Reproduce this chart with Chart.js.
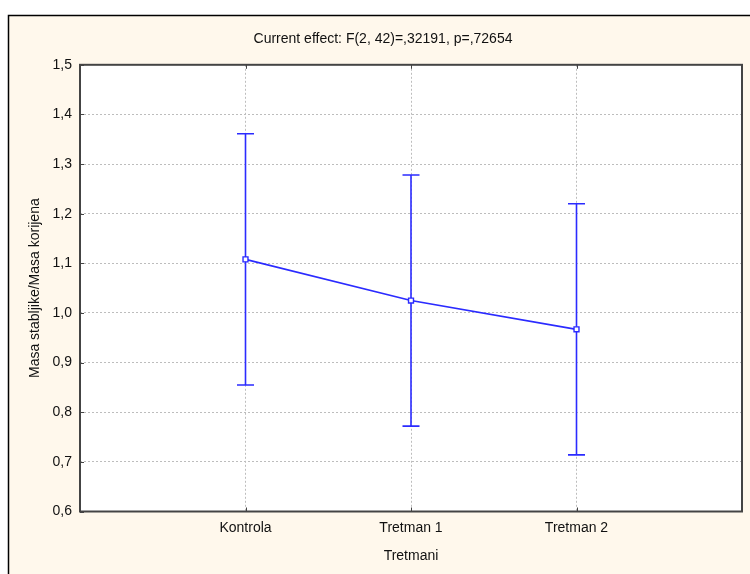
<!DOCTYPE html>
<html>
<head>
<meta charset="utf-8">
<script src="https://cdn.jsdelivr.net/npm/chart.js@4"></script>
<style>
  html, body { margin: 0; padding: 0; background: #fff; }
  #wrap { width: 750px; height: 574px; }
</style>
</head>
<body>
<div id="wrap"><canvas id="chart"></canvas></div>
<script>
// Values
const groups = ["Kontrola", "Tretman 1", "Tretman 2"];
const means = [1.108, 1.025, 0.967];
const upper = [1.361, 1.278, 1.220];
const lower = [0.855, 0.772, 0.714];
const yTicks = [0.6, 0.7, 0.8, 0.9, 1.0, 1.1, 1.2, 1.3, 1.4, 1.5];

const FONT = "'Liberation Sans', Arial, sans-serif";
const BLUE = '#2b2bff';

// Cream frame with white plot area behind everything
const framePlugin = {
  id: 'frame',
  beforeDraw(chart) {
    const ctx = chart.ctx;
    const a = chart.chartArea;
    ctx.save();
    ctx.fillStyle = '#ffffff';
    ctx.fillRect(0, 0, chart.width, chart.height);
    ctx.fillStyle = '#fff8ec';
    ctx.fillRect(8, 15, chart.width - 8, chart.height - 15);
    ctx.strokeStyle = '#000';
    ctx.lineWidth = 1.5;
    ctx.beginPath();
    ctx.moveTo(8.5, chart.height);
    ctx.lineTo(8.5, 15.5);
    ctx.lineTo(chart.width, 15.5);
    ctx.stroke();
    ctx.fillStyle = '#ffffff';
    ctx.fillRect(a.left, a.top, a.right - a.left, a.bottom - a.top);
    ctx.restore();
  },
  afterDraw(chart) {
    const ctx = chart.ctx;
    const a = chart.chartArea;
    const xs = chart.scales.x, ys = chart.scales.y;
    ctx.save();
    ctx.strokeStyle = '#444';
    ctx.lineWidth = 2;
    ctx.strokeRect(a.left, a.top, a.right - a.left, a.bottom - a.top);
    // small inward tick marks
    ctx.lineWidth = 1;
    ctx.beginPath();
    yTicks.forEach(v => {
      const y = Math.round(ys.getPixelForValue(v)) + 0.5;
      ctx.moveTo(a.left, y);
      ctx.lineTo(a.left + 4, y);
    });
    groups.forEach((g, i) => {
      const x = Math.round(xs.getPixelForValue(i + 1)) + 0.5;
      ctx.moveTo(x, a.top);
      ctx.lineTo(x, a.top + 4);
      ctx.moveTo(x, a.bottom);
      ctx.lineTo(x, a.bottom - 4);
    });
    ctx.stroke();
    ctx.restore();
  }
};

// Error bars from the upper / lower arrays
const errorBarPlugin = {
  id: 'errorBars',
  beforeDatasetsDraw(chart) {
    const ctx = chart.ctx;
    const xs = chart.scales.x, ys = chart.scales.y;
    ctx.save();
    ctx.strokeStyle = BLUE;
    ctx.lineWidth = 1.6;
    groups.forEach((g, i) => {
      const x = xs.getPixelForValue(i + 1);
      const yt = ys.getPixelForValue(upper[i]);
      const yb = ys.getPixelForValue(lower[i]);
      ctx.beginPath();
      ctx.moveTo(x, yt);
      ctx.lineTo(x, yb);
      ctx.moveTo(x - 8.5, yt);
      ctx.lineTo(x + 8.5, yt);
      ctx.moveTo(x - 8.5, yb);
      ctx.lineTo(x + 8.5, yb);
      ctx.stroke();
    });
    ctx.restore();
  }
};

new Chart(document.getElementById('chart'), {
  type: 'line',
  data: {
    datasets: [{
      data: means.map((m, i) => ({ x: i + 1, y: m })),
      borderColor: BLUE,
      borderWidth: 1.6,
      pointStyle: 'rect',
      pointRadius: 3.5,
      pointBackgroundColor: '#fff',
      pointBorderColor: BLUE,
      pointBorderWidth: 1.4,
      tension: 0
    }]
  },
  options: {
    responsive: true,
    maintainAspectRatio: false,
    animation: false,
    layout: { padding: { left: 22, right: 6, top: 0, bottom: 0 } },
    plugins: {
      legend: { display: false },
      tooltip: { enabled: false },
      title: {
        display: true,
        text: 'Current effect: F(2, 42)=,32191, p=,72654',
        color: '#111',
        font: { family: FONT, size: 14, weight: 'normal' },
        padding: { top: 31, bottom: 17 }
      }
    },
    scales: {
      x: {
        type: 'linear',
        min: 0,
        max: 4,
        afterBuildTicks: s => { s.ticks = [0, 1, 2, 3, 4].map(v => ({ value: v })); },
        afterFit: s => { s.height = 62.5; },
        ticks: {
          color: '#111',
          font: { family: FONT, size: 14 },
          padding: 8,
          callback: v => groups[v - 1] || ''
        },
        grid: { color: '#bdbdbd', drawTicks: false },
        border: { display: false, dash: [2, 2] },
        title: {
          display: true,
          text: 'Tretmani',
          color: '#111',
          font: { family: FONT, size: 14 },
          padding: { top: 0, bottom: 9 }
        }
      },
      y: {
        min: 0.6,
        max: 1.5,
        afterBuildTicks: s => { s.ticks = yTicks.map(v => ({ value: v })); },
        afterFit: s => { s.width = 58; },
        ticks: {
          color: '#111',
          font: { family: FONT, size: 14 },
          padding: 8,
          callback: v => v.toFixed(1).replace('.', ',')
        },
        grid: { color: '#bdbdbd', drawTicks: false },
        border: { display: false, dash: [2, 2] },
        title: {
          display: true,
          text: 'Masa stabljike/Masa korijena',
          color: '#111',
          font: { family: FONT, size: 14 },
          padding: { top: 5, bottom: 0 }
        }
      }
    }
  },
  plugins: [framePlugin, errorBarPlugin]
});
</script>
</body>
</html>
